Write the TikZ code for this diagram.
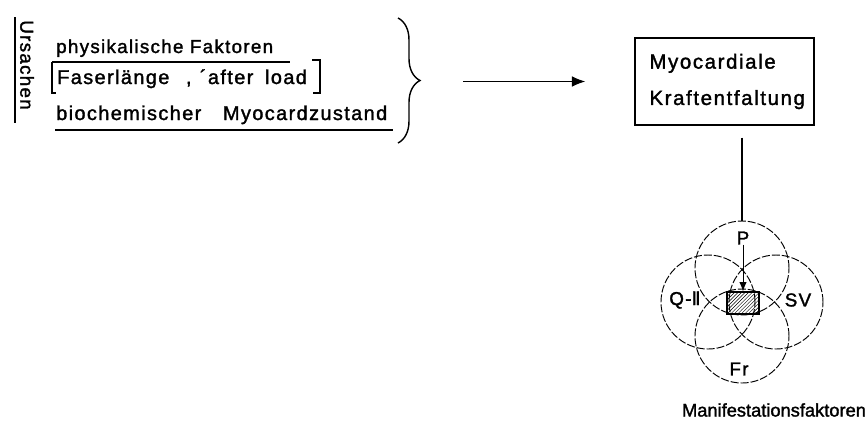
\documentclass[tikz,border=0pt]{standalone}
\usepackage{fontspec}
\setmainfont{Liberation Sans}[LetterSpace=7, FakeBold=1.6]
\newfontfamily\romfont{DejaVu Sans}[FakeBold=1.2]
\usetikzlibrary{positioning,arrows.meta,decorations.pathreplacing,patterns}

\begin{document}
\begin{tikzpicture}[
  x=0.3mm, y=-0.3mm,
  txt/.style={inner sep=0pt, font=\fontsize{16}{18}\selectfont},
  big/.style={inner sep=0pt, font=\fontsize{17}{20}\selectfont},
  box/.style={draw, line width=1.2pt, minimum width=53.7mm, minimum height=26.1mm,
              align=left, text width=45mm, inner xsep=0pt,
              font=\fontsize{17.4}{31}\selectfont\addfontfeatures{LetterSpace=8}},
  ring/.style={draw, circle, minimum size=28.2mm, inner sep=0pt, line width=0.8pt,
               dash pattern=on 2.4mm off 0.6mm},
  ar/.style={-{Latex[length=4mm, width=3.2mm]}, line width=1pt}
]
  \useasboundingbox (0,0) rectangle (867,426);

  \node[txt, rotate=-90] (ursachen) at (27,65) {Ursachen};
  \draw[line width=0.9pt] (15,17) -- (15,123);

  \node[txt, anchor=base west] (phys) at (56,53) {physikalische\ Faktoren};
  \node[big, anchor=base west] (faser) at (57,84) {Faserlänge\hspace{5mm},\hspace{2.5mm}´after\hspace{3.5mm}load};
  \node[big, anchor=base west] (bioch) at (56,120) {biochemischer\hspace{6.5mm}Myocardzustand};

  \draw[line width=0.9pt] (52,62) -- (290,62);
  \draw[line width=0.9pt] (52,62) -- (52,93) -- (56,93);
  \draw[line width=0.9pt] (312,60) -- (320,60) -- (320,93) -- (313,93);
  \draw[line width=1.3pt] (55,130) -- (393,130);

  \draw[line width=1.2pt, decorate, decoration={brace, amplitude=6.6mm}] (398,18) -- (398,143);
  \coordinate (bracetip) at (420,81.5);

  \node[box] (kraft) at (724.5,81.5) {Myocardiale\\Kraftentfaltung};
  \draw[ar, shorten <=12.9mm, shorten >=14.7mm] (bracetip) -- (kraft.west);

  \node[ring] (cP) at (742,268) {};
  \node[ring] (cL) at (708,302) {};
  \node[ring] (cR) at (776,302) {};
  \node[ring] (cF) at (742,336) {};

  \node[txt] (lP) at (743,238) {P};
  \node[txt] (lQ) at (685,300) {Q-{\romfont Ⅱ}};
  \node[txt] (lSV) at (798,300) {SV};
  \node[txt] (lFr) at (739,369) {Fr};

  \node[draw, line width=1pt, pattern=north east lines, minimum width=9.6mm,
        minimum height=6.6mm, inner sep=0pt] (hatch) at (743,303) {};

  \draw[line width=1pt, shorten <=3.6mm] (kraft.south -| cP) -- (cP.north);
  \draw[-{Latex[length=2.8mm, width=2.2mm]}, line width=0.8pt] (lP.south) -- (hatch.north);

  \node[txt, font=\fontsize{15.6}{18}\selectfont\addfontfeatures{LetterSpace=0}] (manif) at (774,410) {Manifestationsfaktoren};
\end{tikzpicture}
\end{document}
